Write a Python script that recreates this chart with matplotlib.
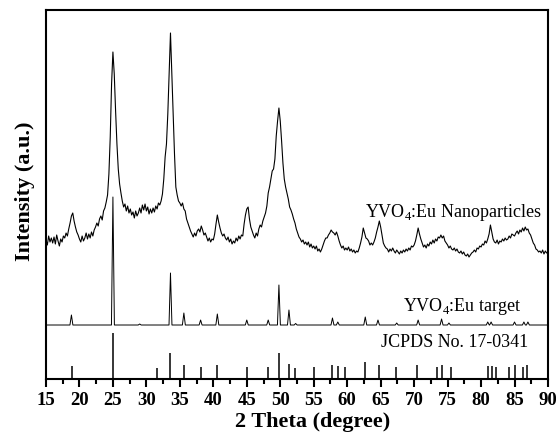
import numpy as np
import matplotlib
matplotlib.use("Agg")
import matplotlib.pyplot as plt
from matplotlib.ticker import MultipleLocator

plt.rcParams['font.family'] = ['Liberation Serif', 'DejaVu Serif']
plt.rcParams['mathtext.fontset'] = 'custom'
plt.rcParams['mathtext.rm'] = 'Liberation Serif'

# YVO4:Eu nanoparticles, read every 0.2 deg from 15 to 90 (arbitrary units)
nano_intensity = [
    139, 134, 143, 137, 141,   # 15
    136, 142, 135, 144, 138,   # 16
    133, 140, 137, 143, 141,   # 17
    146, 143, 150, 156, 163,   # 18
    166, 158, 152, 147, 144,   # 19
    140, 137, 143, 138, 141,   # 20
    146, 140, 145, 141, 147,   # 21
    143, 149, 152, 156, 153,   # 22
    160, 163, 159, 168, 171,   # 23
    177, 184, 205, 242, 295,   # 24
    327, 305, 268, 235, 210,   # 25
    195, 186, 178, 172, 175,   # 26
    168, 173, 166, 170, 164,   # 27
    167, 161, 168, 163, 166,   # 28
    171, 166, 174, 169, 175,   # 29
    168, 172, 165, 170, 166,   # 30
    171, 167, 173, 170, 176,   # 31
    174, 178, 185, 200, 222,   # 32
    235, 265, 305, 346, 305,   # 33
    262, 225, 192, 184, 178,   # 34
    176, 173, 176, 170, 168,   # 35
    160, 156, 152, 148, 145,   # 36
    142, 146, 143, 148, 150,   # 37
    147, 153, 149, 144, 146,   # 38
    142, 138, 141, 137, 140,   # 39
    139, 145, 155, 164, 157,   # 40
    151, 146, 143, 145, 141,   # 41
    139, 142, 137, 140, 135,   # 42
    138, 136, 141, 138, 143,   # 43
    140, 144, 143, 155, 164,   # 44
    170, 172, 160, 152, 148,   # 45
    144, 141, 146, 143, 150,   # 46
    154, 152, 158, 162, 166,   # 47
    173, 186, 192, 200, 208,   # 48
    210, 220, 243, 258, 271,   # 49
    258, 238, 216, 200, 192,   # 50
    186, 180, 172, 169, 165,   # 51
    160, 156, 150, 146, 142,   # 52
    140, 137, 139, 135, 137,   # 53
    134, 137, 132, 135, 131,   # 54
    133, 130, 133, 128, 130,   # 55
    127, 130, 134, 138, 141,   # 56
    141, 144, 146, 149, 147,   # 57
    146, 144, 147, 143, 138,   # 58
    134, 131, 133, 129, 131,   # 59
    129, 132, 128, 130, 127,   # 60
    129, 126, 128, 127, 131,   # 61
    136, 142, 151, 146, 141,   # 62
    140, 138, 134, 136, 134,   # 63
    137, 141, 147, 152, 158,   # 64
    152, 144, 136, 133, 131,   # 65
    130, 127, 130, 128, 131,   # 66
    128, 126, 129, 127, 125,   # 67
    128, 126, 129, 127, 130,   # 68
    128, 131, 129, 133, 132,   # 69
    134, 138, 144, 151, 145,   # 70
    140, 136, 132, 134, 131,   # 71
    135, 133, 137, 135, 139,   # 72
    136, 140, 138, 142, 141,   # 73
    144, 141, 143, 138, 136,   # 74
    134, 131, 133, 130, 129,   # 75
    131, 128, 130, 127, 126,   # 76
    128, 125, 127, 124, 123,   # 77
    125, 122, 124, 126, 127,   # 78
    129, 127, 131, 130, 133,   # 79
    132, 135, 134, 138, 136,   # 80
    140, 145, 154, 147, 140,   # 81
    137, 136, 139, 135, 138,   # 82
    137, 140, 138, 141, 139,   # 83
    140, 143, 141, 145, 144,   # 84
    143, 146, 148, 145, 149,   # 85
    147, 151, 148, 152, 149,   # 86
    150, 146, 144, 140, 136,   # 87
    134, 130, 129, 127, 128,   # 88
    126, 129, 125, 128, 126,   # 89
    127,                       # 90
]
nano_2theta = np.linspace(15, 90, len(nano_intensity))

# YVO4:Eu target: peak positions and heights above its baseline
target_base = 54
target_pos = [18.8, 25.0, 29.0, 33.6, 35.6, 38.1, 40.6, 45.0, 48.2, 49.8,
              51.3, 52.3, 57.8, 58.6, 62.7, 64.6, 67.4, 70.6, 74.1, 75.2,
              81.0, 81.5, 85.0, 86.4, 87.0]
target_height = [10, 128, 1, 52, 12, 5, 11, 5, 5, 40,
                 15, 1.5, 7, 3, 8, 5, 2, 5, 6, 2,
                 3, 3, 3, 3, 3]

# JCPDS No. 17-0341 reference lines
jcpds_pos = [18.9, 25.0, 31.6, 33.6, 35.6, 38.2, 40.6, 45.0, 48.2, 49.8,
             51.3, 52.2, 55.0, 57.8, 58.7, 59.7, 62.7, 64.8, 67.3, 70.5,
             73.4, 74.2, 75.5, 81.0, 81.6, 82.2, 84.1, 85.1, 86.3, 86.9]
jcpds_height = [13, 46, 11, 26, 14, 12, 14, 12, 12, 26,
                15, 11, 12, 14, 13, 12, 17, 14, 12.5, 14,
                12, 14, 12, 13, 13, 12, 12, 14, 12, 14]

x_ticks = [15, 20, 25, 30, 35, 40, 45, 50, 55, 60, 65, 70, 75, 80, 85, 90]

# target pattern as narrow spikes on a flat baseline
tx = [15.0]
ty = [0.0]
for p, h in zip(target_pos, target_height):
    tx += [p - 0.22, p, p + 0.22]
    ty += [0.0, h, 0.0]
tx.append(90.0)
ty.append(0.0)
tx = np.array(tx)
ty = np.array(ty) + target_base

fig = plt.figure(figsize=(5.56, 4.33), dpi=100)
ax = fig.add_axes([0.0827, 0.1247, 0.9029, 0.8522])

ax.plot(nano_2theta, nano_intensity, color='black', lw=0.8)
ax.plot(tx, ty, color='black', lw=0.7)
ax.vlines(jcpds_pos, 0, jcpds_height, color='black', lw=1.1)

ax.text(89.1, 162, 'YVO$_4$:Eu Nanoparticles', ha='right', va='baseline', fontsize=13)
ax.text(86.0, 68, 'YVO$_4$:Eu target', ha='right', va='baseline', fontsize=13)
ax.text(87.0, 32, 'JCPDS No. 17-0341', ha='right', va='baseline', fontsize=13)

ax.set_xlim(15, 90)
ax.set_ylim(0, 369)
ax.set_xticks(x_ticks, labels=[str(t) for t in x_ticks],
              fontsize=13.5, fontweight='bold')
ax.xaxis.set_minor_locator(MultipleLocator(2.5))
ax.set_yticks([])
ax.tick_params(axis='x', which='major', direction='out', length=6, width=1.5,
               pad=3.5, top=False)
ax.tick_params(axis='x', which='minor', direction='out', length=3.5, width=1.5, top=False)
for sp in ax.spines.values():
    sp.set_linewidth(1.5)

ax.set_xlabel('2 Theta (degree)', fontsize=16, fontweight='bold')
ax.set_ylabel('Intensity (a.u.)', fontsize=16, fontweight='bold')
ax.xaxis.set_label_coords(0.531, -0.09)
ax.yaxis.set_label_coords(-0.022, 0.51)

fig.savefig('out.png', dpi=100)
